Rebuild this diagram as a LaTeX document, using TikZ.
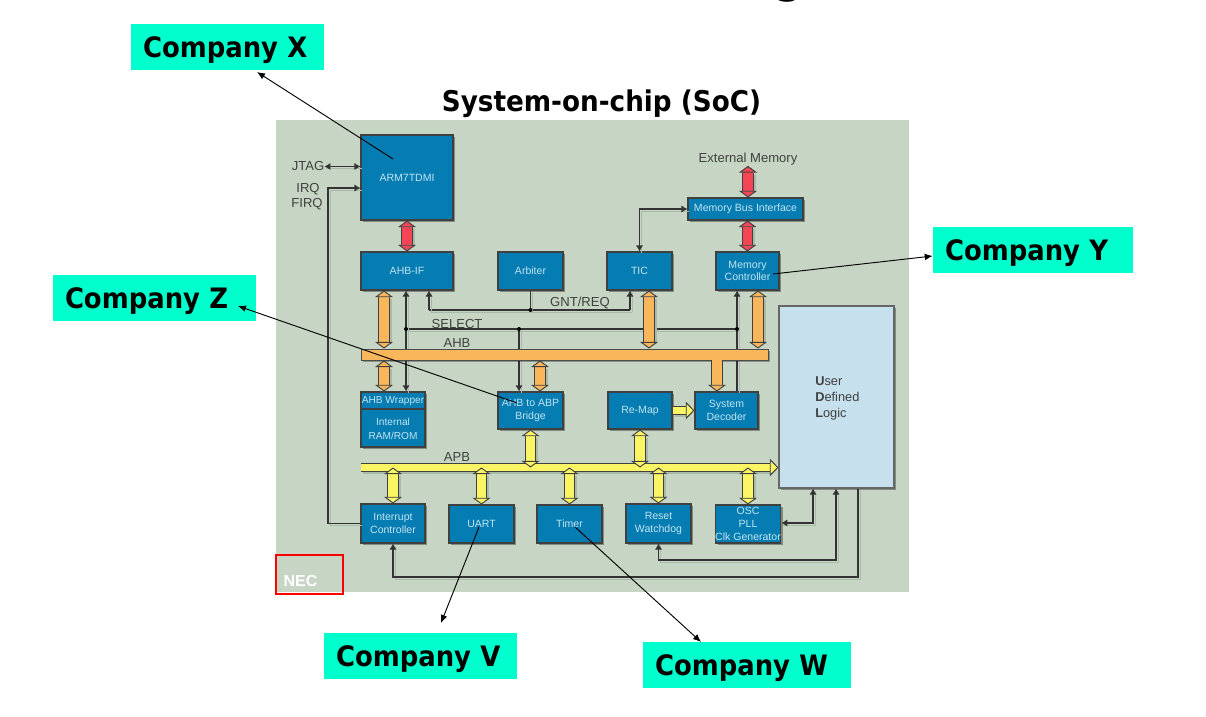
\documentclass[tikz,border=0pt]{standalone}
\usepackage{fontspec}
\usetikzlibrary{arrows.meta,shadows}
\setmainfont{Liberation Sans}
\newfontfamily\calloutfont[FakeStretch=0.92]{DejaVu Sans}

\definecolor{panelgreen}{RGB}{199,214,196}
\definecolor{wireshade}{RGB}{170,186,168}
\definecolor{blockblue}{RGB}{5,125,178}
\definecolor{blocktext}{RGB}{195,228,242}
\definecolor{logicblue}{RGB}{198,224,238}
\definecolor{calloutcyan}{RGB}{0,255,204}
\definecolor{busred}{RGB}{245,70,85}
\definecolor{busorange}{RGB}{250,182,90}
\definecolor{busyellow}{RGB}{250,245,100}

\tikzset{
	wh/.style 2 args={minimum width=#1*0.75pt,minimum height=#2*0.75pt},
	block/.style={draw=black!75,fill=blockblue,line width=0.8pt,inner sep=0pt,align=center,
		text=blocktext,font=\fontsize{7.9}{9.6}\selectfont,
		drop shadow={shadow xshift=1.8pt,shadow yshift=-1.8pt,fill=black,opacity=0.35}},
	callout/.style={fill=calloutcyan,inner xsep=9pt,inner ysep=0pt,align=left,text depth=0pt,
		minimum height=34.5pt,text width=#1*0.75pt-18pt,font=\calloutfont\bfseries\fontsize{21.1}{24}\selectfont},
	tag/.style={inner sep=0pt,text=black!75,font=\fontsize{9.8}{11.5}\selectfont,align=center},
	wire/.style={draw=black!80,line width=0.8pt,preaction={draw=wireshade,-,transform canvas={shift={(1.5pt,-1.5pt)}}}},
	tipped/.style={-{Latex[length=4.5pt,width=5.5pt]}},
	twotipped/.style={{Latex[length=4.5pt,width=5.5pt]}-{Latex[length=4.5pt,width=5.5pt]}},
	dot/.style={circle,fill=black,inner sep=0pt,minimum size=3pt},
	bus/.style={line width=7pt,draw=#1,
		preaction={draw=wireshade,line width=8.4pt,-,shorten >=5pt,shorten <=5pt,transform canvas={shift={(1.5pt,-1.5pt)}}},
		preaction={draw=black!75,line width=8.4pt,-,shorten >=5pt,shorten <=5pt},
		{Triangle[length=5pt,width=13.5pt,fill=#1,color=black!75,line width=0.7pt]}-{Triangle[length=5pt,width=13.5pt,fill=#1,color=black!75,line width=0.7pt]}},
	downbus/.style={line width=7pt,draw=#1,
		preaction={draw=black!75,line width=8.4pt,-,shorten >=5pt},
		-{Triangle[length=5pt,width=13.5pt,fill=#1,color=black!75,line width=0.7pt]}},
	flatbus/.style={line width=5.4pt,draw=#1,
		preaction={draw=wireshade,line width=6.8pt,-,shorten >=6pt,transform canvas={shift={(1.5pt,-1.5pt)}}},
		preaction={draw=black!75,line width=6.8pt,-,shorten >=6pt},
		-{Triangle[length=6.5pt,width=13pt,fill=#1,color=black!75,line width=0.7pt]}},
	pointer/.style={-{Latex[length=6pt,width=5pt]},black,line width=0.7pt}
}

\begin{document}
\begin{tikzpicture}[x=0.75pt,y=-0.75pt]
	\useasboundingbox (0,0) rectangle (1206,717);

	\node[inner sep=0pt,anchor=base,font=\calloutfont\bfseries\fontsize{34}{34}\selectfont] (cutoff) at (789,-7) {g};
	\fill[panelgreen] (276,120) rectangle (909,592);

	% junctions of the wires
	\coordinate (selectleft) at (406,329);
	\coordinate (selectmid) at (519,329);
	\coordinate (selectright) at (737,329);
	\coordinate (grantleft) at (429,310);
	\coordinate (grantmid) at (530.5,310);
	\coordinate (grantright) at (630,310);
	\coordinate (irqcorner) at (328,188);
	\coordinate (oscwire) at (813,523);
	\coordinate (resetwire) at (836,560);
	\coordinate (intwire) at (858,577);

	% wires go first, the bars cover them
	\draw[wire] (selectleft) -- (selectright);
	\draw[wire] (grantleft) -- (grantright);

	% blocks
	\node[block,wh={92}{85}] (arm) at (407,177.5) {ARM7TDMI};
	\node[block,wh={92}{38}] (ahbif) at (407,271) {AHB-IF};
	\node[block,wh={65}{38}] (arbiter) at (530.5,271) {Arbiter};
	\node[block,wh={65}{38}] (tic) at (639.5,271) {TIC};
	\node[block,wh={63}{38}] (memctrl) at (747.5,271) {Memory\\Controller};
	\node[block,wh={115}{22}] (membus) at (745.5,209) {Memory Bus Interface};
	\node[block,wh={64}{55}] (wrapper) at (393,419.5) {};
	\node[block,wh={65}{37}] (bridge) at (530.5,410.5) {AHB to ABP\\Bridge};
	\node[block,wh={64}{37}] (remap) at (640,410.5) {Re-Map};
	\node[block,wh={63}{37}] (sysdec) at (726.5,410.5) {System\\Decoder};
	\node[block,wh={64}{39}] (intctrl) at (393,523.5) {Interrupt\\Controller};
	\node[block,wh={65}{38}] (uart) at (481.5,524) {UART};
	\node[block,wh={65}{38}] (timer) at (569.5,524) {Timer};
	\node[block,wh={65}{39}] (reset) at (658.5,523.5) {Reset\\Watchdog};
	\node[block,wh={64}{38}] (osc) at (748,524) {OSC\\PLL\\Clk Generator};
	\node[block,wh={115}{182},fill=logicblue,draw=black!60] (logic) at (836.5,397) {};
	\node[tag,font=\fontsize{9.6}{12}\selectfont,align=left,anchor=west] (logiclabel) at (815,398) {\textbf{U}ser\\\textbf{D}efined\\\textbf{L}ogic};

	\node[inner sep=0pt,text=blocktext,font=\fontsize{7.6}{9}\selectfont] (wraptitle) at (393,401) {AHB Wrapper};
	\node[inner sep=0pt,text=blocktext,font=\fontsize{7.6}{10}\selectfont,align=center] (wrapbody) at (393,429) {Internal\\RAM/ROM};
	\draw[black!75,line width=0.8pt] (wrapper.west |- 0,409) -- (wrapper.east |- 0,409);

	% texts on the panel
	\node[tag] (jtag) at (308,166.5) {JTAG};
	\node[tag] (irq) at (308,189.5) {IRQ};
	\node[tag] (firq) at (307,204.5) {FIRQ};
	\node[tag] (extmem) at (748,159.5) {External Memory};
	\node[tag] (gntreq) at (580,302.5) {GNT/REQ};
	\node[tag] (select) at (457,323.5) {SELECT};
	\node[tag] (ahblabel) at (457,343.5) {AHB};
	\node[tag] (apblabel) at (457,456.5) {APB};

	% control wires
	\draw[wire,twotipped] (jtag.east) -- (jtag.east -| arm.west);
	\draw[wire,tipped] (intctrl.west) -| (irqcorner) -- (irqcorner -| arm.west);
	\draw[wire,twotipped] (ahbif.south -| selectleft) -- (wrapper.north -| selectleft);
	\draw[wire,tipped] (selectright) -- (memctrl.south -| selectright);
	\draw[wire] (selectright) -- (sysdec.north -| selectright);
	\draw[wire,tipped] (selectmid) -- (bridge.north -| selectmid);
	\draw[wire,tipped] (grantleft) -- (ahbif.south -| grantleft);
	\draw[wire,tipped] (grantright) -- (tic.south -| grantright);
	\draw[wire] (arbiter.south) -- (grantmid);
	\draw[wire,twotipped] (tic.north) |- (membus.west);
	\draw[wire,twotipped] (osc.east |- oscwire) -| (logic.south -| oscwire);
	\draw[wire,twotipped] (reset.south) |- (resetwire) -- (logic.south -| resetwire);
	\draw[wire,tipped] (logic.south -| intwire) |- (intwire -| intctrl.south) -- (intctrl.south);
	\node[dot] (dotselecta) at (selectleft) {};
	\node[dot] (dotselectb) at (selectmid) {};
	\node[dot] (dotselectc) at (selectright) {};
	\node[dot] (dotgrant) at (grantmid) {};

	% bars
	\node[inner sep=0pt,draw=black!70,line width=0.7pt,fill=busorange,wh={407}{11},
		drop shadow={shadow xshift=1.5pt,shadow yshift=-1.5pt,fill=black,opacity=0.3}] (ahb) at (564.5,354.5) {};
	\coordinate (apbstart) at (361,467.5);

	% big arrows
	\draw[bus=busred] (arm.south) -- (ahbif.north);
	\draw[bus=busred] (extmem.south) -- (membus.north -| extmem.south);
	\draw[bus=busred] (membus.south -| memctrl.north) -- (memctrl.north);
	\draw[bus=busorange] (ahbif.south -| 384,0) -- (ahb.north -| 384,0);
	\draw[bus=busorange] (tic.south -| 649,0) -- (ahb.north -| 649,0);
	\draw[bus=busorange] (memctrl.south -| 758,0) -- (ahb.north -| 758,0);
	\draw[bus=busorange] (ahb.south -| 384,0) -- (wrapper.north -| 384,0);
	\draw[bus=busorange] (ahb.south -| 540,0) -- (bridge.north -| 540,0);
	\draw[downbus=busorange] (ahb.south -| 717,0) -- (sysdec.north -| 717,0);
	\draw[flatbus=busyellow] (remap.east) -- (sysdec.west);
	\draw[flatbus=busyellow] (apbstart) -- (apbstart -| logic.west);
	\draw[bus=busyellow] (bridge.south) -- (bridge.south |- apbstart);
	\draw[bus=busyellow] (remap.south) -- (remap.south |- apbstart);
	\draw[bus=busyellow] (intctrl.north |- apbstart) -- (intctrl.north);
	\draw[bus=busyellow] (uart.north |- apbstart) -- (uart.north);
	\draw[bus=busyellow] (timer.north |- apbstart) -- (timer.north);
	\draw[bus=busyellow] (reset.north |- apbstart) -- (reset.north);
	\draw[bus=busyellow] (osc.north |- apbstart) -- (osc.north);

	% logo and its frame
	\node[inner sep=0pt,text=white,font=\bfseries\fontsize{12}{12}\selectfont] (nec) at (300.5,581) {NEC};
	\node[draw=red,line width=1pt,inner sep=0pt,wh={67}{39}] (necframe) at (309.5,574.5) {};

	% title and company labels
	\node[inner sep=0pt,text depth=0pt,font=\calloutfont\bfseries\fontsize{21.4}{24}\selectfont] (soc) at (601.5,101) {System-on-chip (SoC)};
	\node[callout=193] (companyx) at (227.5,47) {Company X};
	\node[callout=200] (companyy) at (1033,250) {Company Y};
	\node[callout=203] (companyz) at (154.5,298) {Company Z};
	\node[callout=193] (companyv) at (420.5,656) {Company V};
	\node[callout=208] (companyw) at (747,665) {Company W};

	\coordinate (xhead) at (257,72);
	\coordinate (xtail) at (393,159);
	\coordinate (ytail) at (773,274);
	\coordinate (ztail) at (517,403);
	\coordinate (zhead) at (238,306);
	\coordinate (vtail) at (479,527);
	\coordinate (vhead) at (441,623);
	\coordinate (wtail) at (575,527);
	\coordinate (whead) at (701,642);

	\draw[pointer] (xtail) -- (xhead);
	\draw[pointer] (ytail) -- ([yshift=-4.5pt]companyy.west);
	\draw[pointer] (ztail) -- (zhead);
	\draw[pointer] (vtail) -- (vhead);
	\draw[pointer] (wtail) -- (whead);
\end{tikzpicture}
\end{document}
